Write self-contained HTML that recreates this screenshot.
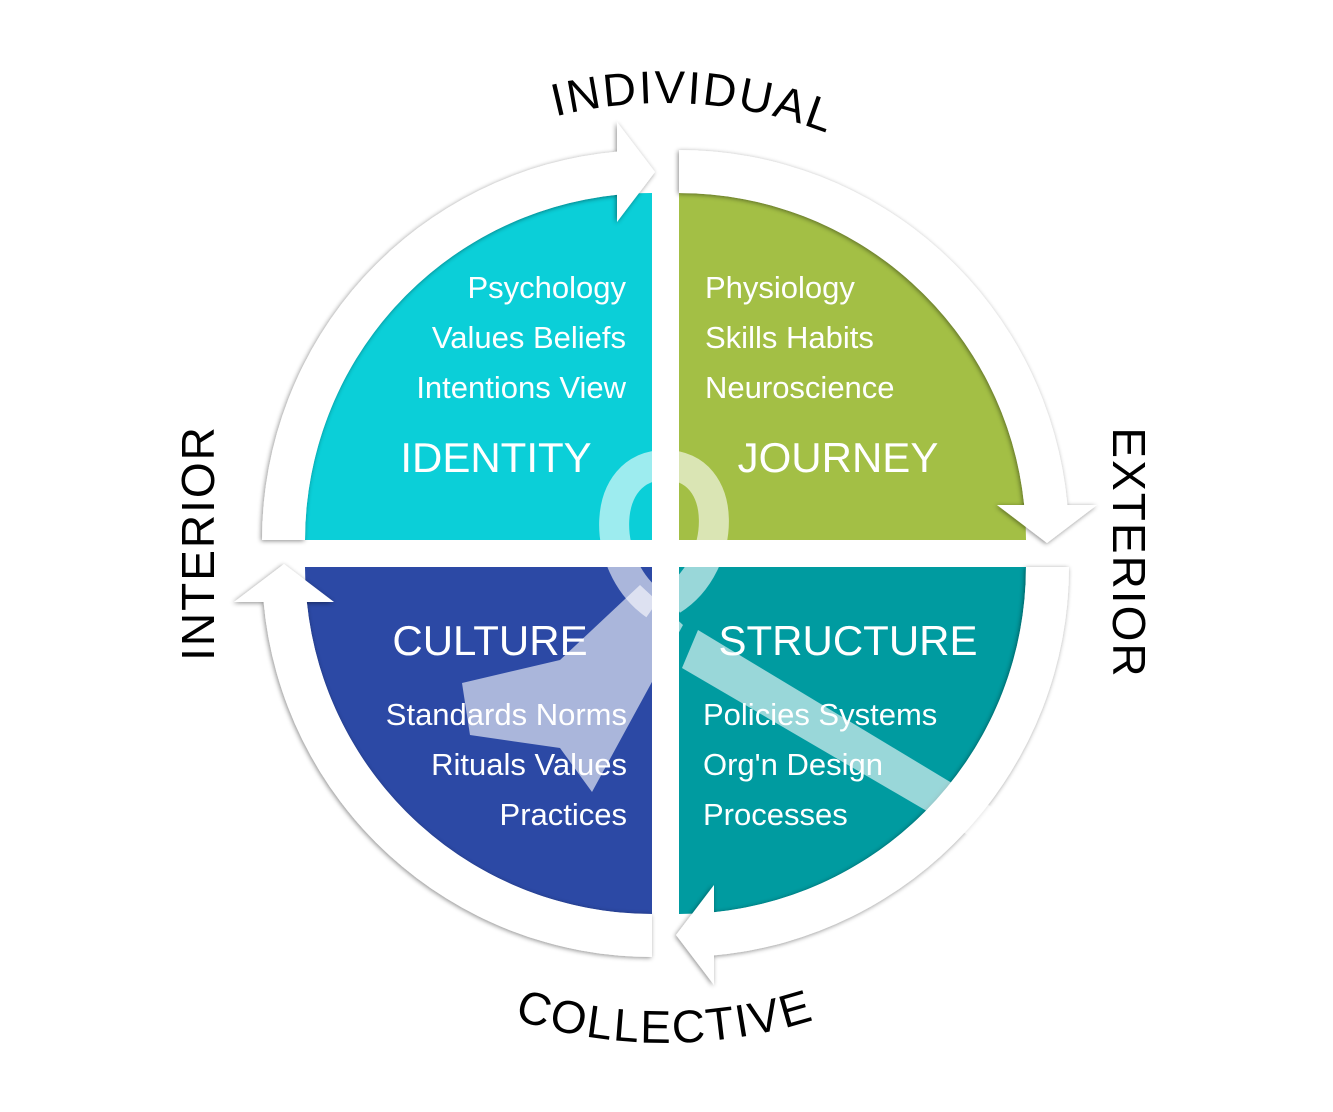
<!DOCTYPE html>
<html><head><meta charset="utf-8"><style>
html,body{margin:0;padding:0;background:#fff;}
svg{display:block;}
text{font-family:"Liberation Sans",sans-serif;}
</style></head><body>
<svg width="1333" height="1112" viewBox="0 0 1333 1112" xmlns="http://www.w3.org/2000/svg">
<defs>
<filter id="sh" x="-20%" y="-20%" width="140%" height="140%">
<feDropShadow dx="-1" dy="1" stdDeviation="2.5" flood-color="#000" flood-opacity="0.45"/>
</filter>
<path id="arcTop" d="M 215 553 A 450 450 0 0 1 1115 553"/>
<path id="arcBot" d="M 175 553 A 490 490 0 0 0 1155 553"/>
</defs>
<!-- quadrants -->
<path d="M652,540 L305,540 A347,347 0 0 1 652,193 Z" fill="#0bcfd8"/>
<path d="M679,540 L679,193 A347,347 0 0 1 1026,540 Z" fill="#a3bf45"/>
<path d="M679,567 L1026,567 A347,347 0 0 1 679,914 Z" fill="#009ba0"/>
<path d="M652,567 L652,914 A347,347 0 0 1 305,567 Z" fill="#2c49a5"/>
<!-- ring arrows -->
<g transform="translate(665.5,553.5)" filter="url(#sh)" fill="#fff">
<g id="arr"><path d="M-403.5,-13.5 A390,390 0 0 1 -48.5,-401.9 L-48.5,-431.5 L-10.5,-381.5 L-48.5,-331.5 L-48.5,-358.7 A347,347 0 0 0 -360.5,-13.5 Z"/></g>
<use href="#arr" transform="rotate(90)"/>
<use href="#arr" transform="rotate(180)"/>
<use href="#arr" transform="rotate(270)"/>
</g>
<!-- ribbon -->
<path d="M655,605 C598,565 600,465 665,465 C730,465 728,565 672,600" fill="none" stroke="#fff" stroke-opacity="0.6" stroke-width="30"/>
<g fill="#fff" fill-opacity="0.6">
<path d="M640,585 L683,625 L592,792 L560,748 L470,735 L462,683 L560,660 Z"/>
<path d="M698,630 L1000,812 L985,845 L682,668 Z"/>
</g>
<!-- inner text -->
<g fill="#fff" font-size="31">
<text x="626" y="298" text-anchor="end">Psychology</text>
<text x="626" y="348" text-anchor="end">Values Beliefs</text>
<text x="626" y="398" text-anchor="end">Intentions View</text>
<text x="705" y="298">Physiology</text>
<text x="705" y="348">Skills Habits</text>
<text x="705" y="398">Neuroscience</text>
<text x="627" y="725" text-anchor="end">Standards Norms</text>
<text x="627" y="775" text-anchor="end">Rituals Values</text>
<text x="627" y="825" text-anchor="end">Practices</text>
<text x="703" y="725">Policies Systems</text>
<text x="703" y="775">Org'n Design</text>
<text x="703" y="825">Processes</text>
</g>
<g fill="#fff" font-size="42">
<text x="496" y="472" text-anchor="middle">IDENTITY</text>
<text x="838" y="472" text-anchor="middle">JOURNEY</text>
<text x="490" y="655" text-anchor="middle">CULTURE</text>
<text x="848" y="655" text-anchor="middle">STRUCTURE</text>
</g>
<!-- outer labels -->
<g fill="#000" font-size="46" letter-spacing="2">
<text><textPath href="#arcTop" startOffset="52%" text-anchor="middle">INDIVIDUAL</textPath></text>
<text><textPath href="#arcBot" startOffset="50%" text-anchor="middle">COLLECTIVE</textPath></text>
<text transform="translate(214,543) rotate(-90)" text-anchor="middle">INTERIOR</text>
<text transform="translate(1113,553) rotate(90)" text-anchor="middle">EXTERIOR</text>
</g>
</svg>
</body></html>
